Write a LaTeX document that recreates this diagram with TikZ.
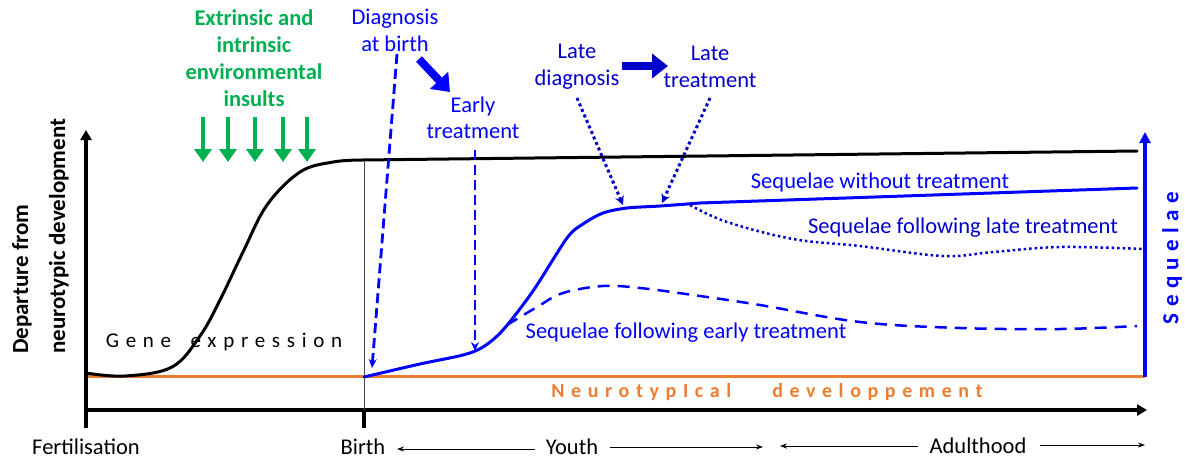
\documentclass[tikz,border=0pt]{standalone}
\usepackage{fontspec}
\setmainfont{Carlito}
\usetikzlibrary{arrows.meta}
\definecolor{insultgreen}{RGB}{0,176,80}
\definecolor{seqblue}{RGB}{0,0,255}
\definecolor{lateblue}{RGB}{0,0,200}
\definecolor{normorange}{RGB}{237,125,49}
\tikzset{
  txt/.style={font=\fontsize{22.5}{27}\selectfont, inner sep=0pt, align=center},
  boldtxt/.style={txt, font=\fontsize{22.5}{27}\selectfont\bfseries},
  insult/.style={insultgreen, line width=4pt, -{Triangle[length=13pt,width=17pt]}},
  dashedarrow/.style={seqblue, line width=2.8pt, dash pattern=on 10pt off 5pt, -{Stealth[length=9pt,width=8pt]}},
  dottedarrow/.style={lateblue, line width=3pt, dash pattern=on 3pt off 3pt, -{Stealth[length=9pt,width=9pt]}},
  blockarrow/.style={line width=8pt, -{Triangle[length=16pt,width=24pt]}},
  agearrow/.style={line width=0.9pt, -{Stealth[length=7pt,width=5pt]}},
  curve/.style={line width=3pt, line cap=round, line join=round}
}
\begin{document}
\begin{tikzpicture}[x=1pt,y=-1pt]
\useasboundingbox (0,0) rectangle (1185,459);

% baseline of neurotypical development
\draw[normorange, line width=3pt] (86,376) -- (1145,376);

% axes
\draw[line width=4pt, -{Triangle[length=10pt,width=11pt]}] (86,428) -- (86,130);
\draw[line width=4pt, -{Triangle[length=10pt,width=11pt]}] (84,410) -- (1147,410);
\draw[line width=4pt] (364,410) -- (364,428);
\draw[black!70, line width=0.8pt] (364,160) -- (364,410);

% gene expression curve
\draw[curve, black] plot[smooth, tension=0.6] coordinates {(86,373) (125,376) (172,367) (200,336) (220,300) (243,252) (267,205) (300,172) (333,162) (362,160)} -- (1137,151);

% sequelae without treatment
\draw[curve, seqblue] plot[smooth, tension=0.5] coordinates {(364,377) (420,364) (463,355) (483,347) (503,330) (533,291) (567,238) (583,224) (603,213) (627,208) (660,206) (700,203)} -- (1137,188);

% sequelae after late treatment
\draw[lateblue, line width=2.5pt, dash pattern=on 2.5pt off 3pt] plot[smooth, tension=0.6] coordinates {(690,205) (727,222) (793,239) (860,246) (943,256) (993,252) (1060,247) (1143,249)};

% sequelae after early treatment
\draw[seqblue, line width=2.5pt, dash pattern=on 12pt off 8pt] plot[smooth, tension=0.6] coordinates {(507,325) (537,307) (563,293) (603,286) (640,288) (693,295) (760,305) (860,322) (960,328) (1060,329) (1137,326)};

% sequelae axis
\draw[seqblue, line width=3.5pt, -{Triangle[length=11pt,width=11pt]}] (1145,377) -- (1145,132);
\node[boldtxt, seqblue, rotate=90, font=\fontsize{23}{27}\selectfont\bfseries\addfontfeatures{LetterSpace=28}] (seqaxis) at (1172,258) {Sequelae};

% axis labels
\node[boldtxt, rotate=90, align=left, anchor=north west, font=\fontsize{23}{37}\selectfont\bfseries] (ylabel) at (12,354) {Departure from\\neurotypic development};
\node[txt, font=\fontsize{21}{24}\selectfont\addfontfeatures{LetterSpace=32}] (gene) at (224,342) {Gene\hspace{8pt} expression};
\node[boldtxt, normorange, font=\fontsize{20}{24}\selectfont\bfseries\addfontfeatures{LetterSpace=33}] (neuro) at (767,392) {NeurotypIcal\hspace{30pt} developpement};

% environmental insults
\node[boldtxt, insultgreen, font=\fontsize{22.5}{27}\selectfont\bfseries] (insults) at (254,58) {Extrinsic and\\intrinsic\\environmental\\insults};
\foreach \xx in {203,228,255,283,307}
  \draw[insult] (\xx,117) -- (\xx,162);

% diagnosis and treatment labels
\node[txt, seqblue, font=\fontsize{22.5}{27}\selectfont] (diagbirth) at (395,30) {Diagnosis\\at birth};
\node[txt, seqblue, font=\fontsize{22.5}{26}\selectfont] (early) at (473,118) {Early\\treatment};
\node[txt, lateblue, font=\fontsize{22.5}{27}\selectfont] (latediag) at (577,67) {Late\\diagnosis};
\node[txt, lateblue, font=\fontsize{22.5}{27}\selectfont] (latetreat) at (710,67) {Late\\treatment};

\draw[blockarrow, seqblue] (419,59) -- (450,92);
\draw[blockarrow, lateblue] (622,66) -- (668,66);

\coordinate (birthpt) at (372,368);
\coordinate (earlypt) at (475,351);
\coordinate (latediagpt) at (623,205);
\coordinate (latetreatpt) at (662,203);
\draw[dashedarrow] (397,54) -- (birthpt);
\draw[dashedarrow] (475,150) -- (earlypt);
\draw[dottedarrow] (577,98) -- (latediagpt);
\draw[dottedarrow] (710,98) -- (latetreatpt);

% curve labels
\node[txt, seqblue] (noTreat) at (880,182) {Sequelae without treatment};
\node[txt, lateblue] (lateTreat) at (963,228) {Sequelae following late treatment};
\node[txt, seqblue] (earlyTreat) at (686,333) {Sequelae following early treatment};

% time line
\node[txt] (fert) at (86,447) {Fertilisation};
\node[txt] (birth) at (363,447) {Birth};
\node[txt] (youth) at (572,447) {Youth};
\node[txt] (adult) at (978,446) {Adulthood};
\draw[agearrow] (535,449) -- (397,449);
\draw[agearrow] (610,447) -- (763,447);
\draw[agearrow] (918,446) -- (780,446);
\draw[agearrow] (1040,445) -- (1145,445);
\end{tikzpicture}
\end{document}
